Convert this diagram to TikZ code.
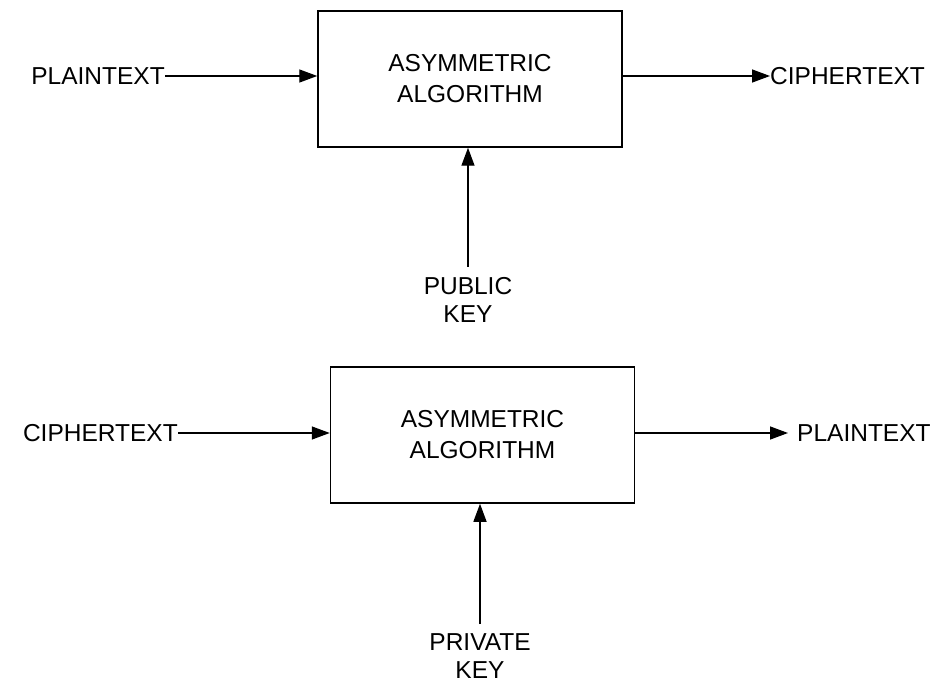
\documentclass[tikz,border=0pt]{standalone}
\usepackage{fontspec}
\setmainfont{Liberation Sans}
\usetikzlibrary{arrows.meta}
\begin{document}
\begin{tikzpicture}[x=1pt,y=-1pt,
  algobox/.style={draw,line width=1.5pt,minimum width=304pt,minimum height=136pt,
    align=center,inner sep=0pt,font=\fontsize{24.5}{31}\selectfont},
  lbl/.style={inner sep=0pt,font=\fontsize{24.5}{28.5}\selectfont,align=center},
  flow/.style={line width=1.4pt,-{Triangle[length=18pt,width=13pt]}}]
\useasboundingbox (0,0) rectangle (942,684);
\fill[white] (0,0) rectangle (942,684);

% encryption with the public key
\node[algobox] (enc) at (470,79) {ASYMMETRIC\\ALGORITHM};
\node[lbl,anchor=east] (pin) at (165,76) {PLAINTEXT};
\node[lbl,anchor=west] (cout) at (770,76) {CIPHERTEXT};
\node[lbl,anchor=north] (pub) at (468,277) {PUBLIC\\KEY};
\draw[flow] (pin.east) -- (enc.west |- pin.east);
\draw[flow] (enc.east |- cout.west) -- (cout.west);
\draw[flow] ([yshift=10pt]pub.north) -- (enc.south -| pub.north);

% decryption with the private key
\node[algobox] (dec) at (482.5,435) {ASYMMETRIC\\ALGORITHM};
\node[lbl,anchor=east] (cin) at (178,433) {CIPHERTEXT};
\node[lbl,anchor=west] (pout) at (797,433) {PLAINTEXT};
\node[lbl,anchor=north] (priv) at (480,633) {PRIVATE\\KEY};
\draw[flow] (cin.east) -- (dec.west |- cin.east);
\draw[flow] (dec.east |- pout.west) -- ([xshift=-9pt]pout.west);
\draw[flow] ([yshift=9pt]priv.north) -- (dec.south -| priv.north);
\end{tikzpicture}
\end{document}
